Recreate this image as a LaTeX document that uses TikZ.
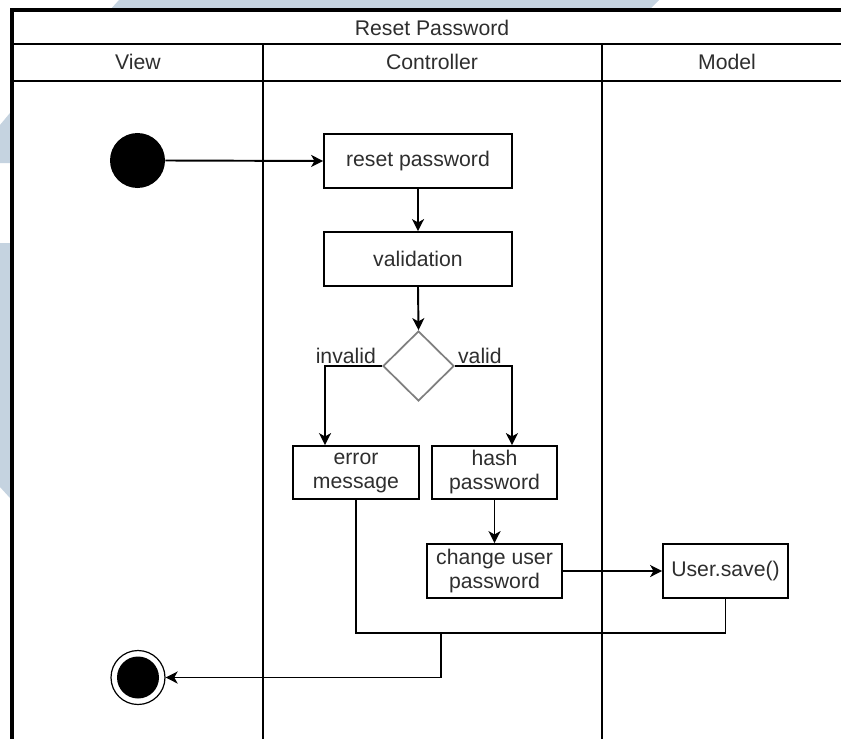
\documentclass[tikz,border=0pt]{standalone}
\usepackage{fontspec}
\setmainfont{Liberation Sans}
\usetikzlibrary{shapes.geometric,arrows.meta}
\definecolor{wmark}{HTML}{C5D3E0}
\definecolor{txt}{HTML}{2E2E2E}
\definecolor{dgray}{HTML}{7F7F7F}

\begin{document}
\begin{tikzpicture}[x=0.75pt,y=-0.75pt,
  every node/.style={font=\fontsize{15.9}{18}\selectfont, text=txt},
  actbox/.style={draw=black, line width=1.3pt, fill=white, align=center, inner sep=1pt},
  decide/.style={shape=diamond, draw=dgray, line width=1.3pt, fill=white, inner sep=0pt,
                 minimum width=53.25pt, minimum height=52.5pt},
  startdot/.style={circle, fill=black, minimum size=41.25pt, inner sep=0pt},
  enddot/.style={circle, draw=black, line width=0.9pt, fill=white, minimum size=40.5pt, inner sep=0pt,
                 path picture={\fill[black] (path picture bounding box.center) circle (15.75pt);}},
  lanetext/.style={inner sep=0pt},
  guard/.style={inner sep=0pt},
  flow/.style={draw=black, line width=1.45pt},
  arr/.style={flow, -{Stealth[length=9pt,width=9pt,inset=2.5pt]}},
  inner/.style={line width=1.5pt, draw=black},
  outer/.style={line width=2.4pt, draw=black}
]
\useasboundingbox (0,0) rectangle (841,738);
\clip (0,0) rectangle (841,738);
\fill[white] (0,0) rectangle (841,738);

% pale background marks
\fill[wmark] (110,10) -- (119,0) -- (659,0) -- (649,10) -- cycle;
\fill[wmark] (0,125) -- (10,113) -- (10,163) -- (0,163) -- cycle;
\fill[wmark] (0,243) -- (10,243) -- (10,498) -- (0,487) -- cycle;

% swimlane frame
\draw[inner] (12,44) -- (852,44);
\draw[inner] (12,81) -- (852,81);
\draw[inner] (263,44) -- (263,760);
\draw[inner] (602,44) -- (602,760);
\draw[outer] (12,760) -- (12,10) -- (852,10) -- (852,760);

% titles
\node[lanetext] (title) at (432,28) {Reset Password};
\node[lanetext] (lview) at (138,62) {View};
\node[lanetext] (lctrl) at (432,62) {Controller};
\node[lanetext] (lmodel) at (727,62) {Model};

% activity nodes
\node[startdot] (start) at (137.5,160.5) {};
\node[actbox, minimum width=141pt, minimum height=40.5pt] (reset) at (418,161) {reset password};
\node[actbox, minimum width=141pt, minimum height=40.5pt] (valid) at (418,259) {validation};
\node[decide] (dec) at (418.5,366) {};
\node[actbox, minimum width=94.5pt, minimum height=39.75pt] (err) at (356,472.5) {error\\message};
\node[actbox, minimum width=93.75pt, minimum height=39.75pt] (hash) at (494.5,472.5) {hash\\password};
\node[actbox, minimum width=101.25pt, minimum height=40.5pt] (change) at (494.5,571) {change user\\password};
\node[actbox, minimum width=93.75pt, minimum height=40.5pt] (save) at (725.5,571) {User.save()};
\node[enddot] (finish) at (138,677.5) {};
\coordinate (merge) at (441,633);

% guard labels
\node[guard, anchor=base east] (ginv) at ([xshift=-4.5pt,yshift=2.25pt]dec.west) {invalid};
\node[guard, anchor=base west] (gval) at ([xshift=2.25pt,yshift=2.25pt]dec.east) {valid};

% flows
\draw[arr] (start.east) -- (reset.west);
\draw[arr] (reset.south) -- (valid.north);
\draw[arr] (valid.south) -- (dec.north);
\draw[arr] (dec.west) -| ([xshift=-23.25pt]err.north);
\draw[arr] (dec.east) -| ([xshift=13.1pt]hash.north);
\draw[arr] (hash.south) -- (change.north);
\draw[arr] (change.east) -- (save.west);
\draw[flow] (err.south) |- (merge);
\draw[flow] (save.south) |- (merge);
\draw[arr] (merge) |- (finish.east);
\end{tikzpicture}
\end{document}
